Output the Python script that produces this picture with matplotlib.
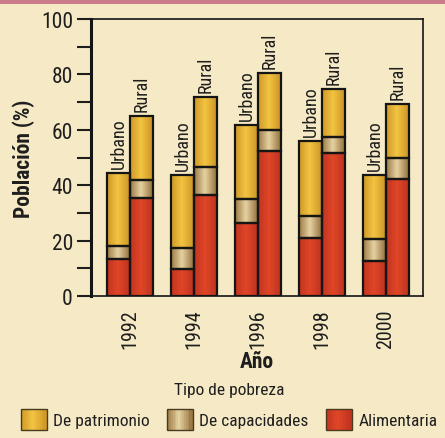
import matplotlib
matplotlib.use('Agg')
import matplotlib.pyplot as plt
import numpy as np
from matplotlib import font_manager
from matplotlib.colors import LinearSegmentedColormap
from matplotlib.patches import Patch, Rectangle
from matplotlib.legend_handler import HandlerBase

# ---------------- data ----------------
years = ['1992', '1994', '1996', '1998', '2000']
urb_alim = [13.5, 9.8, 26.2, 21.1, 12.8]
urb_cap = [18.2, 17.2, 35.1, 28.8, 20.4]
urb_patr = [44.4, 43.7, 61.9, 55.9, 43.7]
rur_alim = [35.5, 36.5, 52.3, 51.8, 42.3]
rur_cap = [41.7, 46.4, 59.9, 57.5, 50.0]
rur_patr = [64.9, 71.9, 80.6, 74.6, 69.2]
series_names = ['De patrimonio', 'De capacidades', 'Alimentaria']
group_labels = ['Urbano', 'Rural']
yticks = [0, 20, 40, 60, 80, 100]

# ---------------- fonts ----------------
names = {f.name for f in font_manager.fontManager.ttflist}
cond = None
for cand in ['Roboto Condensed', 'Liberation Sans Narrow', 'Open Sans Condensed', 'DejaVu Sans Condensed']:
    if cand in names:
        cond = cand
        break
fam = [cond, 'DejaVu Sans'] if cond else ['Liberation Sans', 'DejaVu Sans']
plt.rcParams['font.family'] = fam

BG = '#f5eac5'
TXT = '#1e1e1e'
cols = {
    'De patrimonio': ('#cf9a26', '#f3c443'),
    'De capacidades': ('#9c7a45', '#e6d2a2'),
    'Alimentaria': ('#c23420', '#e04628'),
}
cmaps = {n: LinearSegmentedColormap.from_list(n, [c[0], c[1], c[0]]) for n, c in cols.items()}

fig = plt.figure(figsize=(4.45, 4.39), dpi=100, facecolor=BG)
fig.patches.append(Rectangle((0, 1 - 5 / 439), 1, 5 / 439, transform=fig.transFigure,
                             facecolor='#c97b8a', edgecolor='none'))
ax = fig.add_axes([91 / 445, 1 - 297 / 439, (423 - 91) / 445, (297 - 20) / 439])
ax.set_facecolor(BG)

x = np.arange(len(years))
w = 0.36
offs = [-0.18, 0.18]


def grad_fill(patch, name):
    bx, by = patch.get_x(), patch.get_y()
    bw, bh = patch.get_width(), patch.get_height()
    t = np.linspace(0, 1, 64)
    v = np.clip(t * 1.1, 0, 1)[None, :]
    im = ax.imshow(v, extent=[bx, bx + bw, by, by + bh], aspect='auto', cmap=cmaps[name],
                   vmin=0, vmax=1, zorder=2, interpolation='bilinear')
    im.set_clip_path(patch)


for gi, (alim, cap, patr) in enumerate([(urb_alim, urb_cap, urb_patr),
                                        (rur_alim, rur_cap, rur_patr)]):
    alim = np.array(alim); cap = np.array(cap); patr = np.array(patr)
    layers = [('Alimentaria', np.zeros_like(alim), alim),
              ('De capacidades', alim, cap - alim),
              ('De patrimonio', cap, patr - cap)]
    for name, bottom, height in layers:
        bars = ax.bar(x + offs[gi], height, w, bottom=bottom, facecolor='none',
                      edgecolor='#151515', linewidth=1.6, zorder=3)
        for p in bars:
            grad_fill(p, name)
    for xi, top in zip(x, patr):
        ax.text(xi + offs[gi], top + 1.8, group_labels[gi], rotation=90, ha='center',
                va='bottom', fontsize=13, color=TXT)

ax.set_xlim(-0.61, 4.58)
ax.set_ylim(0, 100)
ax.set_yticks(yticks)
ax.set_yticks([10, 30, 50, 70, 90], minor=True)
ax.tick_params(axis='y', which='both', length=10, width=1.5, direction='out',
               labelsize=15.5, pad=3, colors=TXT)
ax.set_xticks(x)
ax.set_xticklabels(years, rotation=90, fontsize=14.5, color=TXT)
ax.tick_params(axis='x', length=0, pad=9)
for s in ['top', 'right', 'bottom']:
    ax.spines[s].set_linewidth(1.2)
    ax.spines[s].set_color('#151515')
ax.spines['left'].set_linewidth(2.2)
ax.spines['left'].set_color('#151515')

ax.set_ylabel('Población (%)', fontsize=15.5, fontweight='bold', color=TXT, labelpad=4)
ax.set_xlabel('Año', fontsize=15.5, fontweight='bold', color=TXT, labelpad=1)


class GradHandler(HandlerBase):
    def create_artists(self, legend, orig_handle, xdescent, ydescent, width, height,
                       fontsize, trans):
        name = orig_handle.get_label()
        arts = []
        n = 14
        for i in range(n):
            c = cmaps[name](min(1.0, (i + 0.5) / n * 1.1))
            arts.append(Rectangle((-xdescent + width * i / n, -ydescent), width / n + 0.3,
                                  height, facecolor=c, edgecolor='none', transform=trans))
        arts.append(Rectangle((-xdescent, -ydescent), width, height, facecolor='none',
                              edgecolor='#4a3a20', linewidth=1.0, transform=trans))
        return arts


handles = [Patch(label=n) for n in series_names]
leg = fig.legend(handles=handles, loc='center', bbox_to_anchor=(0.515, 1 - 407 / 439),
                 ncol=3, frameon=False, fontsize=12.5, title='Tipo de pobreza',
                 title_fontsize=12.5, handlelength=1.5, handleheight=1.45,
                 handletextpad=0.35, columnspacing=1.0, labelspacing=0.7, labelcolor=TXT,
                 handler_map={Patch: GradHandler()})
leg.get_title().set_color(TXT)

fig.savefig('out.png', dpi=100, facecolor=BG)
